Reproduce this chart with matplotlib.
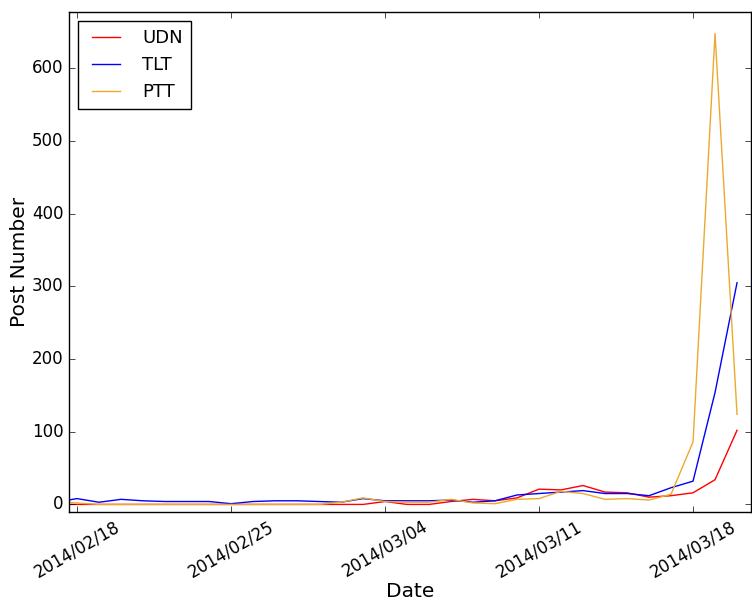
import matplotlib
matplotlib.use("Agg")
import matplotlib.pyplot as plt
import matplotlib.dates as mdates
import pandas as pd

dates = pd.date_range("2014-02-17", "2014-03-20", freq="D")
udn = [0, 0, 0, 0, 0, 0, 0, 0, 0, 0, 0, 0, 0, 0,
       0, 4, 0, 0, 4, 7, 5, 9, 21, 20, 26, 17, 16, 10, 12, 16, 34, 102]
tlt = [3, 8, 3, 7, 5, 4, 4, 4, 1, 4, 5, 5, 4, 3,
       8, 5, 5, 5, 6, 3, 5, 13, 15, 17, 19, 15, 15, 12, 23, 32, 154, 305]
ptt = [4, 2, 0, 0, 0, 0, 0, 0, 0, 0, 0, 0, 0, 3,
       9, 4, 3, 3, 7, 2, 1, 7, 8, 18, 15, 7, 8, 6, 14, 86, 648, 124]
names = ["UDN", "TLT", "PTT"]
colors = ["#FF0000", "#0000FF", "#EDA92E"]
tick_dates = ["2014-02-18", "2014-02-25", "2014-03-04", "2014-03-11", "2014-03-18"]

plt.style.use("classic")
plt.rcParams["font.family"] = ["DejaVu Sans"]
fig = plt.figure(figsize=(7.52, 6.01), dpi=100, facecolor="white")
ax = fig.add_axes([0.0918, 0.1486, 0.9069, 0.8319])
ax.set_facecolor("white")
for vals, name, c in zip([udn, tlt, ptt], names, colors):
    ax.plot(dates, vals, color=c, lw=1.0, label=name)

ref = pd.Timestamp("2014-02-18")
ax.set_xlim(ref - pd.Timedelta(days=0.364), ref + pd.Timedelta(days=30.636))
ax.set_ylim(-10, 678)
ax.set_yticks(range(0, 700, 100))
ax.set_xticks([pd.Timestamp(d) for d in tick_dates])
ax.xaxis.set_major_formatter(mdates.DateFormatter("%Y/%m/%d"))
for lab in ax.get_xticklabels():
    lab.set_rotation(30)
    lab.set_ha("center")
ax.tick_params(labelsize=12)
ax.set_xlabel("Date", fontsize=14.5, labelpad=1)
ax.set_ylabel("Post Number", fontsize=14.5, labelpad=2)
ax.legend(loc="upper left", fontsize=13, handlelength=2.2, handletextpad=0.9,
          borderpad=0.45, labelspacing=0.5, framealpha=1, fancybox=False)
fig.savefig("out.png", dpi=100, facecolor="white")
